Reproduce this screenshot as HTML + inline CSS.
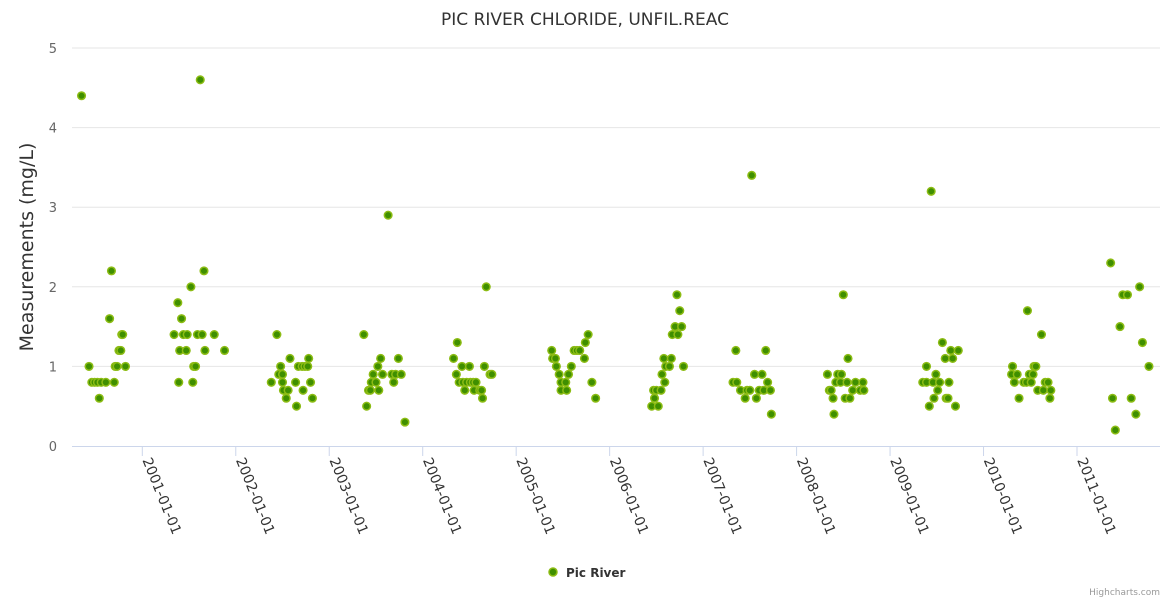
<!DOCTYPE html>
<html><head><meta charset="utf-8">
<style>
body{margin:0;background:#fff;font-family:"DejaVu Sans","Liberation Sans",sans-serif;}
svg{display:block}
</style></head>
<body>
<svg id="chart" width="1170" height="600" xmlns="http://www.w3.org/2000/svg" font-family="DejaVu Sans, Liberation Sans, sans-serif">
<text x="585" y="25" text-anchor="middle" font-size="17" fill="#333">PIC RIVER CHLORIDE, UNFIL.REAC</text>
<text transform="translate(33,247) rotate(-90)" text-anchor="middle" font-size="19" fill="#333">Measurements (mg/L)</text>
<g id="grid"></g>
<g id="xaxis"></g>
<g id="points"></g>
<g>
<circle cx="553" cy="572" r="4" fill="#3f8f00" stroke="#8cbc14" stroke-width="1.5"/>
<text x="566" y="577" font-size="12" font-weight="bold" fill="#333">Pic River</text>
</g>
<text x="1160" y="595" text-anchor="end" font-size="9" fill="#999">Highcharts.com</text>
</svg>
<script>
const yTicks=[0,1,2,3,4,5];
const xTickYears=[2001,2002,2003,2004,2005,2006,2007,2008,2009,2010,2011];
const dates=[2000.35,2001.62,2000.67,2001.66,2001.52,2001.38,2000.65,2001.42,2000.78,2000.79,2001.34,2001.44,2001.48,2001.59,2001.64,2001.77,2000.75,2000.77,2001.40,2001.47,2001.67,2001.88,2000.43,2000.71,2000.73,2000.82,2001.55,2001.57,2000.46,2000.49,2000.52,2000.56,2000.61,2000.70,2001.39,2001.54,2000.54,
2002.44,2002.58,2002.78,2002.48,2002.67,2002.71,2002.74,2002.77,2002.46,2002.50,2002.38,2002.50,2002.64,2002.80,2002.51,2002.56,2002.72,2002.54,2002.82,2002.65,
2003.63,2003.37,2003.55,2003.74,2003.52,2003.47,2003.57,2003.67,2003.71,2003.77,2003.45,2003.50,2003.69,2003.42,2003.44,2003.53,2003.40,2003.81,
2004.68,2004.37,2004.33,2004.42,2004.50,2004.66,2004.36,2004.72,2004.74,2004.39,2004.43,2004.47,2004.51,2004.54,2004.57,2004.45,2004.55,2004.61,2004.63,2004.64,
2005.77,2005.74,2005.62,2005.65,2005.68,2005.38,2005.39,2005.42,2005.73,2005.43,2005.59,2005.46,2005.56,2005.48,2005.53,2005.81,2005.48,2005.54,2005.85,
2006.72,2006.75,2006.70,2006.77,2006.67,2006.73,2006.58,2006.66,2006.60,2006.64,2006.79,2006.56,2006.59,2006.47,2006.50,2006.55,2006.48,2006.45,2006.52,
2007.52,2007.35,2007.67,2007.55,2007.63,2007.32,2007.36,2007.69,2007.40,2007.47,2007.50,2007.60,2007.65,2007.72,2007.45,2007.57,2007.73,
2008.50,2008.55,2008.33,2008.44,2008.48,2008.42,2008.47,2008.54,2008.63,2008.71,2008.35,2008.37,2008.60,2008.68,2008.72,2008.39,2008.52,2008.57,2008.40,
2009.44,2009.56,2009.65,2009.73,2009.59,2009.67,2009.39,2009.49,2009.35,2009.39,2009.46,2009.53,2009.63,2009.51,2009.47,2009.60,2009.62,2009.42,2009.70,
2010.47,2010.62,2010.31,2010.54,2010.56,2010.30,2010.36,2010.49,2010.53,2010.33,2010.43,2010.46,2010.51,2010.66,2010.69,2010.58,2010.64,2010.72,2010.38,2010.71,
2011.36,2011.67,2011.49,2011.54,2011.46,2011.70,2011.77,2011.38,2011.58,2011.63,2011.41];
const values=[4.4,4.6,2.2,2.2,2.0,1.8,1.6,1.6,1.4,1.4,1.4,1.4,1.4,1.4,1.4,1.4,1.2,1.2,1.2,1.2,1.2,1.2,1.0,1.0,1.0,1.0,1.0,1.0,0.8,0.8,0.8,0.8,0.8,0.8,0.8,0.8,0.6,
1.4,1.1,1.1,1.0,1.0,1.0,1.0,1.0,0.9,0.9,0.8,0.8,0.8,0.8,0.7,0.7,0.7,0.6,0.6,0.5,
2.9,1.4,1.1,1.1,1.0,0.9,0.9,0.9,0.9,0.9,0.8,0.8,0.8,0.7,0.7,0.7,0.5,0.3,
2.0,1.3,1.1,1.0,1.0,1.0,0.9,0.9,0.9,0.8,0.8,0.8,0.8,0.8,0.8,0.7,0.7,0.7,0.7,0.6,
1.4,1.3,1.2,1.2,1.2,1.2,1.1,1.1,1.1,1.0,1.0,0.9,0.9,0.8,0.8,0.8,0.7,0.7,0.6,
1.9,1.7,1.5,1.5,1.4,1.4,1.1,1.1,1.0,1.0,1.0,0.9,0.8,0.7,0.7,0.7,0.6,0.5,0.5,
3.4,1.2,1.2,0.9,0.9,0.8,0.8,0.8,0.7,0.7,0.7,0.7,0.7,0.7,0.6,0.6,0.4,
1.9,1.1,0.9,0.9,0.9,0.8,0.8,0.8,0.8,0.8,0.7,0.7,0.7,0.7,0.7,0.6,0.6,0.6,0.4,
3.2,1.3,1.2,1.2,1.1,1.1,1.0,0.9,0.8,0.8,0.8,0.8,0.8,0.7,0.6,0.6,0.6,0.5,0.5,
1.7,1.4,1.0,1.0,1.0,0.9,0.9,0.9,0.9,0.8,0.8,0.8,0.8,0.8,0.8,0.7,0.7,0.7,0.6,0.6,
2.3,2.0,1.9,1.9,1.5,1.3,1.0,0.6,0.6,0.4,0.2];

const NS="http://www.w3.org/2000/svg";
const L=72,R=1160,T=48,B=446;
function xPos(yr){return 142.3+(yr-2001)*93.47;}
function yPos(v){return B-(v/5)*(B-T);}
function mk(tag,attrs,parent){const e=document.createElementNS(NS,tag);for(const k in attrs)e.setAttribute(k,attrs[k]);parent.appendChild(e);return e;}
const grid=document.getElementById('grid');
yTicks.forEach(t=>{
  if(t>0){const ln=mk('line',{x1:L,x2:R,y1:yPos(t),y2:yPos(t),stroke:'#e6e6e6','stroke-width':1},grid);
  
  }
  const tx=mk('text',{x:57,y:yPos(t)+5,'text-anchor':'end','font-size':13,fill:'#666'},grid);
  tx.textContent=t;
  
  
});
const xa=document.getElementById('xaxis');
const axl=mk('line',{x1:L,x2:R,y1:B+0.5,y2:B+0.5,stroke:'#ccd6eb','stroke-width':1},xa);


xTickYears.forEach(yr=>{
  const x=xPos(yr);
  const tk=mk('line',{x1:x,x2:x,y1:B,y2:B+10,stroke:'#ccd6eb','stroke-width':1},xa);
  
  
  const tx=mk('text',{transform:`translate(${x},${B+14}) rotate(68)`,'font-size':14,fill:'#333'},xa);
  tx.textContent=yr+'-01-01';
  
  
});
const pts=document.getElementById('points');
dates.forEach((d,i)=>{
  const c=mk('circle',{cx:xPos(d),cy:yPos(values[i]),r:3.8,fill:'#3f8f00',stroke:'#8cbc14','stroke-width':1.5},pts);
  
  
});
</script>
</body></html>
